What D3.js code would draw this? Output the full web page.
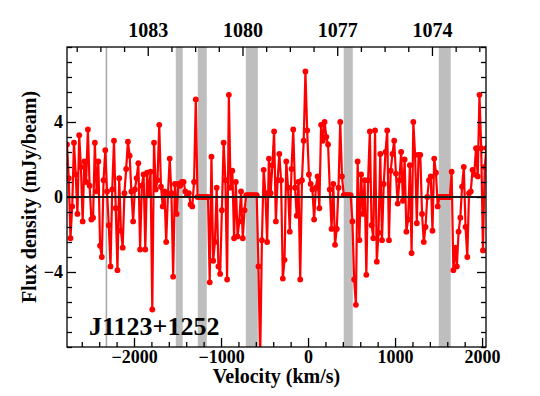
<!DOCTYPE html>
<html>
  <head>
    <meta charset="utf-8" />
    <title>J1123+1252 spectrum</title>
    <style>
      body {
        margin: 0;
        background: #fff;
      }

      svg text {
        font-family: "Liberation Serif", "Times New Roman", serif;
        font-weight: bold;
      }
    </style>
  </head>

  <body>
    <svg id="chart"></svg>

    <script src="https://cdn.jsdelivr.net/npm/d3@7"></script>
    <script>
      const width = 540;
      const height = 396;
      const margin = { top: 47, right: 54, bottom: 49, left: 67 };

      // channel grid of the spectrum (km/s)
      const velStart = -2770;
      const chanWidth = 20;

      // flux density per channel (mJy/beam)
      const flux = [
        2.8, 1.0, -2.2, -0.5, 2.9, 1.2, -0.9, 3.3, 1.6, -1.3,
        1.9, 0.8, 3.6, 0.6, -1.2, -1.1, 2.9, 0.3, 1.9, -2.6,
        -3.2, 0.9, 2.5, 0.3, -1.5, -3.7, 0.4, 3.0, -0.6, -3.9,
        1.0, -1.8, -2.7, 0.2, 1.5, 2.95, 2.2, 0.3, -1.3, 0.4,
        1.0, 1.8, -2.8, 0.6, 1.2, -2.8, 1.3, 0.1, 1.35, -6.0,
        2.9, 0.4, 0.9, 3.85, 0.55, -0.5, 0.3, -2.4, 0.1, 2.05,
        0.2, -4.25, 0.7, -0.9, 0.7, 0.6, 0.8, 0.8, 0.3, 0.1,
        0.2, -0.4, -0.5, 0.8, 5.2, 0, 0, 0, 0, 0,
        0, 0, -4.55, 2.15, -3.4, -2.4, 0.5, -3.7, -4.1, -0.7,
        2.9, 0.9, -4.4, 5.45, 0.5, 1.4, -2.2, 0.8, -2.1, -1.3,
        0.3, -2.2, -0.7, 0.1, 0.1, 0.1, 0.1, 0.1, 0.1, 0.1,
        -3.7, -8.6, -2.3, 1.45, 0.2, -2.4, 2.05, 0.2, 1.7, 3.5,
        -1.3, 0.9, 2.3, 0.9, -4.35, -3.35, 1.9, 0.5, -1.85, 1.5,
        3.6, 0.5, -1.0, 0.8, -4.4, 0.9, 3.0, 6.7, 3.55, 1.2,
        0.7, 0.4, -1.2, 0.5, 1.1, -0.6, 3.85, 3.0, 4.0, 3.2,
        2.8, 0.4, -1.7, 0.7, -2.55, -1.7, 0.5, 4.0, 1.1, 0.1,
        0.1, 0.1, 0.1, 0.1, -1.3, -4.4, -5.75, 1.9, -2.3, 1.2,
        -0.9, 0.9, -4.15, 0.9, 3.5, -1.5, -2.2, 3.55, -3.45, -1.9,
        2.3, -2.3, 0.7, 2.4, 3.55, -2.3, 1.4, 2.3, 3.0, 1.25,
        -0.35, 0.9, 2.4, -0.2, 2.0, -1.85, -1.2, 1.7, -3.0, 4.0,
        2.25, -1.4, 2.25, 2.25, -0.9, -2.4, -1.6, 0.0, 0.9, 1.1,
        -1.8, 2.05, 1.3, -0.5, 0, 0, 0, 0, 0, 0,
        0, 1.35, -3.9, -2.7, -3.7, -1.85, -1.1, 0.55, 1.6, -1.6,
        -3.2, 0.2, 0.3, 1.45, 1.2, 2.6, 1.1, 5.45, 2.6, -2.85,
        1.6, 2.6
      ];

      // flagged (RFI) velocity ranges, km/s
      const maskBands = [
        [-1520, -1440],
        [-1267, -1164],
        [-715, -577],
        [410, 514],
        [1502, 1640]
      ];
      const refVelocity = -2317;

      const velRange = [-2770, 2045];
      const fluxRange = [-8, 8];
      const velTicks = [-2000, -1000, 0, 1000, 2000];
      const fluxTicks = [-4, 0, 4];
      const freqTicks = [1083, 1080, 1077, 1074];

      // observed frequency (MHz) against velocity
      const freqAtZero = 1077.924;
      const kmsPerMHz = 362.9;

      const points = flux.map((f, i) => ({ v: velStart + i * chanWidth, f: f }));

      const svg = d3.select("#chart").attr("width", width).attr("height", height);

      const x = d3
        .scaleLinear()
        .domain(velRange)
        .range([margin.left, width - margin.right]);
      const y = d3
        .scaleLinear()
        .domain(fluxRange)
        .range([height - margin.bottom, margin.top]);
      const xf = d3
        .scaleLinear()
        .domain(velRange.map((v) => freqAtZero - v / kmsPerMHz))
        .range(x.range());

      svg
        .append("clipPath")
        .attr("id", "plot-clip")
        .append("rect")
        .attr("x", margin.left)
        .attr("y", margin.top)
        .attr("width", width - margin.left - margin.right)
        .attr("height", height - margin.top - margin.bottom);

      const plot = svg.append("g").attr("clip-path", "url(#plot-clip)");

      // grey flagged bands
      plot
        .selectAll("rect.band")
        .data(maskBands)
        .join("rect")
        .attr("class", "band")
        .attr("x", (d) => x(d[0]))
        .attr("width", (d) => x(d[1]) - x(d[0]))
        .attr("y", margin.top)
        .attr("height", height - margin.top - margin.bottom)
        .attr("fill", "#bebebe");

      plot
        .append("line")
        .attr("x1", x(refVelocity))
        .attr("x2", x(refVelocity))
        .attr("y1", margin.top)
        .attr("y2", height - margin.bottom)
        .attr("stroke", "#aaaaaa")
        .attr("stroke-width", 1.6);

      const line = d3
        .line()
        .x((d) => x(d.v))
        .y((d) => y(d.f));

      plot
        .append("path")
        .datum(points)
        .attr("fill", "none")
        .attr("stroke", "#ff0000")
        .attr("stroke-width", 2.2)
        .attr("stroke-linejoin", "round")
        .attr("d", line);

      plot
        .selectAll("circle")
        .data(points)
        .join("circle")
        .attr("cx", (d) => x(d.v))
        .attr("cy", (d) => y(d.f))
        .attr("r", 2.9)
        .attr("fill", "#ff0000");

      // zero level
      plot
        .append("line")
        .attr("x1", margin.left)
        .attr("x2", width - margin.right)
        .attr("y1", y(0))
        .attr("y2", y(0))
        .attr("stroke", "#1a1a1a")
        .attr("stroke-width", 1.8);

      // axes, ticks pointing inward
      const majorLen = 9;
      const minorLen = 5;
      const bottom = height - margin.bottom;
      const right = width - margin.right;

      function styleAxis(g) {
        g.attr("font-family", null);
        g.select(".domain").remove();
        g.selectAll(".tick line").attr("stroke", "#000").attr("stroke-width", 1.3);
        g.selectAll("text").attr("fill", "#000");
      }

      const velMinor = d3.range(-2600, 2001, 200).filter((v) => !velTicks.includes(v));
      const fluxMinor = d3.range(-8, 8.01, 0.8).filter((v) => !fluxTicks.some((t) => Math.abs(t - v) < 1e-6));
      const freqMinor = d3.range(1072.5, 1085.6, 0.75).filter((f) => !freqTicks.includes(f));

      svg
        .append("g")
        .attr("transform", `translate(0,${bottom})`)
        .call(d3.axisBottom(x).tickValues(velTicks).tickSize(-majorLen).tickPadding(3).tickFormat(d3.format("d")))
        .call(styleAxis)
        .attr("font-size", 18);
      svg
        .append("g")
        .attr("transform", `translate(0,${bottom})`)
        .call(d3.axisBottom(x).tickValues(velMinor).tickSize(-minorLen).tickFormat(""))
        .call(styleAxis);

      svg
        .append("g")
        .attr("transform", `translate(0,${margin.top})`)
        .call(d3.axisTop(xf).tickValues(freqTicks).tickSize(-majorLen).tickPadding(10).tickFormat(d3.format("d")))
        .call(styleAxis)
        .attr("font-size", 20);
      svg
        .append("g")
        .attr("transform", `translate(0,${margin.top})`)
        .call(d3.axisTop(xf).tickValues(freqMinor).tickSize(-minorLen).tickFormat(""))
        .call(styleAxis);

      svg
        .append("g")
        .attr("transform", `translate(${margin.left},0)`)
        .call(d3.axisLeft(y).tickValues(fluxTicks).tickSize(-majorLen).tickPadding(4).tickFormat(d3.format("d")))
        .call(styleAxis)
        .attr("font-size", 18);
      svg
        .append("g")
        .attr("transform", `translate(${margin.left},0)`)
        .call(d3.axisLeft(y).tickValues(fluxMinor).tickSize(-minorLen).tickFormat(""))
        .call(styleAxis);

      svg
        .append("g")
        .attr("transform", `translate(${right},0)`)
        .call(d3.axisRight(y).tickValues(fluxTicks).tickSize(-majorLen).tickFormat(""))
        .call(styleAxis);
      svg
        .append("g")
        .attr("transform", `translate(${right},0)`)
        .call(d3.axisRight(y).tickValues(fluxMinor).tickSize(-minorLen).tickFormat(""))
        .call(styleAxis);

      // frame
      svg
        .append("rect")
        .attr("x", margin.left)
        .attr("y", margin.top)
        .attr("width", right - margin.left)
        .attr("height", bottom - margin.top)
        .attr("fill", "none")
        .attr("stroke", "#000")
        .attr("stroke-width", 1.3);

      // titles
      svg
        .append("text")
        .attr("x", (margin.left + right) / 2)
        .attr("y", 383)
        .attr("text-anchor", "middle")
        .attr("font-size", 20)
        .text("Velocity (km/s)");

      svg
        .append("text")
        .attr("transform", `translate(36,${(margin.top + bottom) / 2}) rotate(-90)`)
        .attr("text-anchor", "middle")
        .attr("font-size", 20)
        .text("Flux density (mJy/beam)");

      svg
        .append("text")
        .attr("x", 89)
        .attr("y", 335)
        .attr("font-size", 26)
        .text("J1123+1252");
    </script>
  </body>
</html>
